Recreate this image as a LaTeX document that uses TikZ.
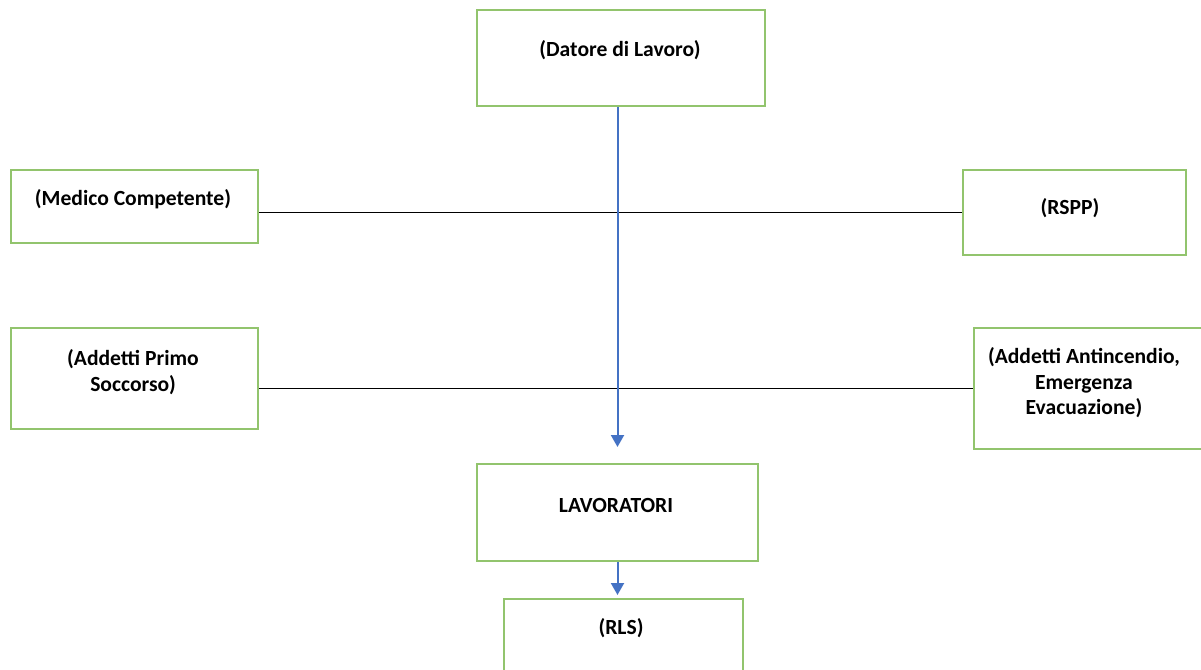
\documentclass[tikz,border=0pt]{standalone}
\usepackage{fontspec}
\setmainfont{Carlito}
\usepackage{tikz}
\usetikzlibrary{arrows.meta}
\definecolor{BoxGreen}{HTML}{92C46D}
\definecolor{FlowBlue}{HTML}{4472C4}
\tikzset{
  % Box styles
  rolebox/.style={rectangle, draw=BoxGreen, line width=1pt, anchor=north west, inner sep=0pt},
  rolelabel/.style={font=\fontsize{10.8}{12.8}\selectfont\bfseries, align=center, inner sep=0pt},
  % Arrow styles
  flowarrow/.style={-{Triangle[width=6.5pt,length=6pt]}, line width=1pt, FlowBlue},
  staffline/.style={line width=0.7pt, black}
}

\begin{document}
\begin{tikzpicture}[x=0.5pt, y=-0.5pt]
  \useasboundingbox (0,0) rectangle (1201,670);

  % Boxes
  \node[rolebox, minimum width=144pt, minimum height=48pt] (datore) at (476,9) {};
  \node[rolebox, minimum width=123.5pt, minimum height=36.5pt] (medico) at (10,169) {};
  \node[rolebox, minimum width=111.5pt, minimum height=42.5pt] (rspp) at (962,169) {};
  \node[rolebox, minimum width=123.5pt, minimum height=50.5pt] (primo) at (10,327) {};
  \node[rolebox, minimum width=130pt, minimum height=60.5pt] (antinc) at (973,327) {};
  \node[rolebox, minimum width=140.5pt, minimum height=48.5pt] (lavor) at (476,463) {};
  \node[rolebox, minimum width=119.5pt, minimum height=50pt] (rls) at (503,598) {};

  % Labels
  \node[rolelabel] (datoreT) at (620,50) {(Datore di Lavoro)};
  \node[rolelabel] (medicoT) at (133,199) {(Medico Competente)};
  \node[rolelabel] (rsppT) at (1070,208) {(RSPP)};
  \node[rolelabel] (primoT) at (133,372) {(Addetti Primo\\Soccorso)};
  \node[rolelabel] (antincT) at (1084,383) {(Addetti Antincendio,\\Emergenza\\Evacuazione)};
  \node[rolelabel] (lavorT) at (616,505) {LAVORATORI};
  \node[rolelabel] (rlsT) at (621,628) {(RLS)};

  % Staff lines
  \draw[staffline] (medico.east |- rspp.west) -- (rspp.west);
  \draw[staffline] (primo.east |- antinc.west) -- (antinc.west);

  % Flow arrows
  \draw[flowarrow, shorten >=8pt] (datore.south -| lavor.north) -- (lavor.north);
  \draw[flowarrow, shorten >=1.5pt] (lavor.south) -- (lavor.south |- rls.north);
\end{tikzpicture}
\end{document}
